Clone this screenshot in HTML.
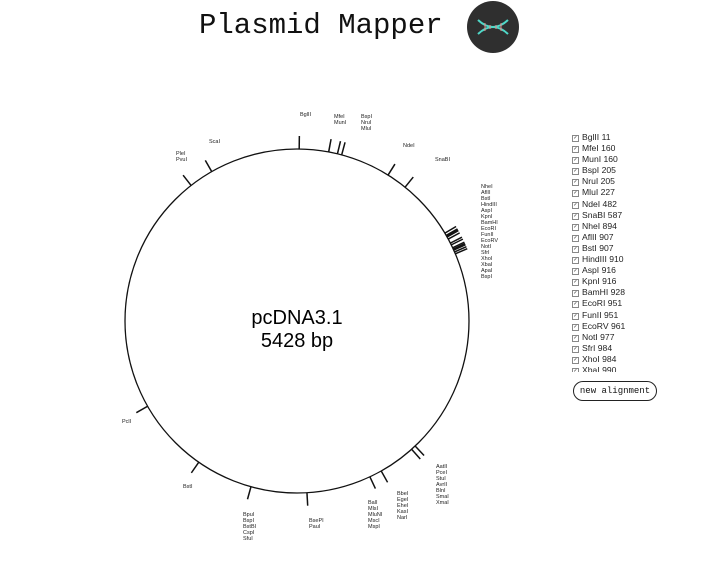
<!DOCTYPE html>
<html><head><meta charset="utf-8"><style>
body{margin:0;width:713px;height:580px;background:#fff;position:relative;overflow:hidden;font-family:"Liberation Sans",sans-serif}
.t{position:absolute;font-size:5.5px;line-height:6px;color:#222;white-space:pre}
#list{position:absolute;left:572px;top:132px;width:90px;height:240px;overflow:hidden;font-size:8.6px;line-height:11.1px;color:#222}
#list div{white-space:nowrap}
#list span{display:inline-block;width:5px;height:5px;border:1px solid #888;font-size:5px;line-height:5px;margin-right:3px;vertical-align:1px;text-align:center}
</style></head><body>
<div style="position:absolute;left:199px;top:9px;font-family:'Liberation Mono',monospace;font-size:29px;color:#111">Plasmid Mapper</div>
<svg style="position:absolute;left:0;top:0" width="713" height="580">
<circle cx="493" cy="27" r="26" fill="#2f2f2f"/>
<path d="M478 20 Q493 34 508 20 M478 34 Q493 20 508 34" stroke="#4fd8c8" stroke-width="2" fill="none"/>
<g stroke="#e88" stroke-width="1"><line x1="485" y1="23" x2="485" y2="31"/><line x1="490" y1="25" x2="490" y2="29"/><line x1="496" y1="25" x2="496" y2="29"/><line x1="501" y1="23" x2="501" y2="31"/></g>
<circle cx="297" cy="321" r="172" fill="none" stroke="#111" stroke-width="1.3"/>
<g id="ticks" stroke="#111" stroke-width="1.5"></g>
<text x="297" y="324" font-size="20" text-anchor="middle" font-family="Liberation Sans">pcDNA3.1</text>
<text x="297" y="347" font-size="20" text-anchor="middle" font-family="Liberation Sans">5428 bp</text>
</svg>
<div class="t" style="left:300px;top:112px">BglII</div>
<div class="t" style="left:334px;top:114px">MfeI
MunI</div>
<div class="t" style="left:361px;top:114px">BspI
NruI
MluI</div>
<div class="t" style="left:403px;top:143px">NdeI</div>
<div class="t" style="left:435px;top:157px">SnaBI</div>
<div class="t" style="left:209px;top:139px">ScaI</div>
<div class="t" style="left:176px;top:151px">PleI
PvuI</div>
<div class="t" style="left:481px;top:184px">NheI
AflII
BstI
HindIII
AspI
KpnI
BamHI
EcoRI
FunII
EcoRV
NotI
SfrI
XhoI
XbaI
ApaI
BspI</div>
<div class="t" style="left:122px;top:419px">PclI</div>
<div class="t" style="left:183px;top:484px">BstI</div>
<div class="t" style="left:243px;top:512px">BpuI
BspI
BstBI
CspI
SfuI</div>
<div class="t" style="left:309px;top:518px">BsePI
PauI</div>
<div class="t" style="left:368px;top:500px">BalI
MlsI
MluNI
MscI
MspI</div>
<div class="t" style="left:397px;top:491px">BbeI
EgeI
EheI
KasI
NarI</div>
<div class="t" style="left:436px;top:464px">AatII
PceI
StuI
AvrII
BlnI
SmaI
XmaI</div>
<div id="list">
<div><span>✓</span>BglII 11</div><div><span>✓</span>MfeI 160</div><div><span>✓</span>MunI 160</div><div><span>✓</span>BspI 205</div><div><span>✓</span>NruI 205</div><div><span>✓</span>MluI 227</div><div><span>✓</span>NdeI 482</div><div><span>✓</span>SnaBI 587</div><div><span>✓</span>NheI 894</div><div><span>✓</span>AflII 907</div><div><span>✓</span>BstI 907</div><div><span>✓</span>HindIII 910</div><div><span>✓</span>AspI 916</div><div><span>✓</span>KpnI 916</div><div><span>✓</span>BamHI 928</div><div><span>✓</span>EcoRI 951</div><div><span>✓</span>FunII 951</div><div><span>✓</span>EcoRV 961</div><div><span>✓</span>NotI 977</div><div><span>✓</span>SfrI 984</div><div><span>✓</span>XhoI 984</div><div><span>✓</span>XbaI 990</div>
</div>
<div style="position:absolute;left:573px;top:381px;width:82px;height:18px;border:1.3px solid #222;border-radius:10px;font-family:'Liberation Mono',monospace;font-size:9px;line-height:18px;text-align:center;color:#111">new alignment</div>
<script>
var s=[11,160,205,227,482,587,894,907,910,916,928,951,961,977,984,990,1000,1010,2060,2084,2272,2336,2664,2948,3239,3623,4855,4980];
var g=document.getElementById('ticks'),h='';
s.forEach(function(b){var a=b/5428*2*Math.PI,sn=Math.sin(a),c=Math.cos(a);
h+='<line x1="'+(297+172*sn)+'" y1="'+(321-172*c)+'" x2="'+(297+185*sn)+'" y2="'+(321-185*c)+'"/>';});
g.innerHTML=h;
</script>
</body></html>
